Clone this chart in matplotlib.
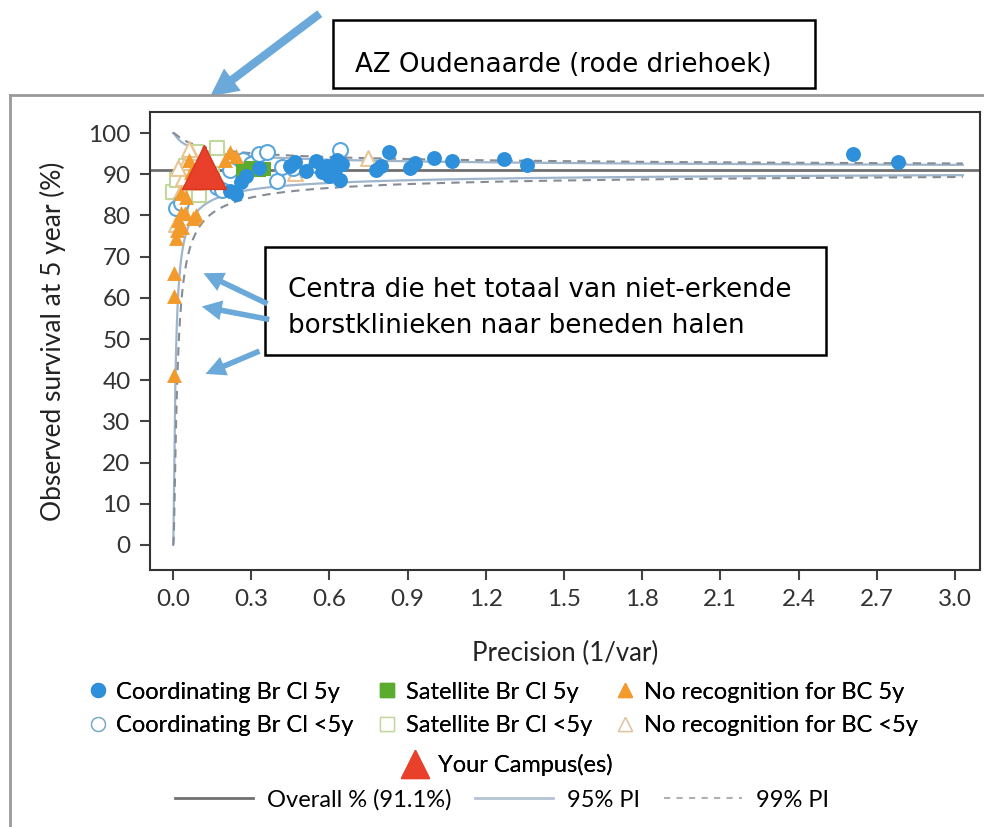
import matplotlib
matplotlib.use("Agg")
import matplotlib.pyplot as plt
import numpy as np
from matplotlib.lines import Line2D
from matplotlib.patches import Rectangle, FancyArrowPatch

plt.rcParams['font.family'] = ['Lato', 'DejaVu Sans']

# ---- data ----
coord5_x = [0.22, 0.24, 0.26, 0.28, 0.33, 0.45, 0.47, 0.51, 0.55, 0.57, 0.59, 0.60, 0.62, 0.63,
            0.64, 0.65, 0.78, 0.80, 0.83, 0.91, 0.93, 1.00, 1.07, 1.27, 1.36, 2.61, 2.78]
coord5_y = [86.0, 85.2, 88.0, 89.5, 91.5, 92.0, 93.0, 90.8, 93.3, 90.5, 92.0, 89.5, 91.0, 93.5,
            88.5, 92.5, 91.0, 92.0, 95.4, 91.5, 92.8, 94.0, 93.2, 93.7, 92.3, 94.8, 92.9]

coord_lt5_x = [0.01, 0.03, 0.17, 0.19, 0.22, 0.27, 0.30, 0.33, 0.36, 0.40, 0.42, 0.46, 0.55, 0.64]
coord_lt5_y = [81.8, 83.0, 87.0, 86.2, 91.0, 93.4, 92.5, 95.0, 95.3, 88.3, 91.7, 91.5, 92.2, 95.9]

sat5_x = [0.27, 0.30, 0.33, 0.35]
sat5_y = [90.8, 91.5, 91.0, 91.3]

sat_lt5_x = [0.00, 0.015, 0.03, 0.05, 0.06, 0.08, 0.09, 0.10, 0.13, 0.15, 0.17]
sat_lt5_y = [85.7, 88.6, 82.5, 92.0, 90.0, 85.0, 95.4, 85.0, 88.0, 90.0, 96.4]

norec5_x = [0.005, 0.005, 0.005, 0.01, 0.015, 0.02, 0.03, 0.035, 0.045, 0.05, 0.06, 0.07, 0.077,
            0.09, 0.10, 0.12, 0.14, 0.16, 0.20, 0.22, 0.24, 0.03, 0.06]
norec5_y = [41.3, 60.5, 66.0, 74.5, 76.5, 79.0, 80.5, 77.2, 80.6, 84.5, 88.0, 90.5, 79.4,
            80.1, 91.0, 94.5, 93.0, 90.0, 93.5, 95.5, 94.5, 85.5, 93.5]

norec_lt5_x = [0.01, 0.02, 0.03, 0.04, 0.05, 0.07, 0.09, 0.11, 0.47, 0.75, 0.02, 0.06]
norec_lt5_y = [78.0, 83.0, 86.0, 89.0, 93.0, 95.5, 88.0, 90.0, 90.3, 93.9, 91.5, 96.0]

campus_x = [0.12]
campus_y = [91.7]

overall = 91.1
logit_scale = 0.1365   # spread of the prediction limits (logit scale, per 1/sqrt(precision))
x_ticks = [0.0, 0.3, 0.6, 0.9, 1.2, 1.5, 1.8, 2.1, 2.4, 2.7, 3.0]
y_ticks = list(range(0, 101, 10))

BLUE = '#2e8fda'
GREEN = '#5aab2e'
ORANGE = '#f39a2c'
RED = '#e8402a'
ARROW = '#6aa9d9'

W, H = 984, 827
fig = plt.figure(figsize=(W / 100, H / 100), dpi=100)
ax = fig.add_axes([150 / W, 1 - 570 / H, 830 / W, 458 / H])

# prediction limits
L = np.log(overall / (100 - overall))
xs = np.geomspace(5e-4, 3.03, 500)
def lim(z, sign):
    return 100 / (1 + np.exp(-(L + sign * z * logit_scale / np.sqrt(xs))))

ax.axhline(overall, color='#707070', lw=2, zorder=2)
for sign in (1, -1):
    ax.plot(xs, lim(1.96, sign), color='#9fb5cc', lw=1.6, zorder=2)
    ax.plot(xs, lim(2.576, sign), color='#868c96', lw=1.5, ls=(0, (4, 3)), zorder=2)

ms = 115
ax.scatter(sat_lt5_x, sat_lt5_y, marker='s', s=ms, facecolor='white', edgecolor='#c2d79a', lw=1.5, zorder=3)
ax.scatter(norec_lt5_x, norec_lt5_y, marker='^', s=ms, facecolor='white', edgecolor='#e9c595', lw=1.5, zorder=3)
ax.scatter(coord_lt5_x, coord_lt5_y, marker='o', s=ms, facecolor='white', edgecolor='#5aa6dc', lw=1.5, zorder=3)
ax.scatter(norec5_x, norec5_y, marker='^', s=ms, color=ORANGE, lw=0, zorder=4)
ax.scatter(sat5_x, sat5_y, marker='s', s=ms, color=GREEN, lw=0, zorder=4)
ax.scatter(coord5_x, coord5_y, marker='o', s=ms, color=BLUE, lw=0, zorder=4)
ax.scatter(campus_x, campus_y, marker='^', s=1000, color=RED, edgecolor='#d8361f', lw=1, zorder=5)

ax.set_xlim(-0.088, 3.096)
ax.set_ylim(-6.07, 105.1)
ax.set_xticks(x_ticks)
ax.set_xticklabels([f'{v:.1f}' for v in x_ticks])
ax.set_yticks(y_ticks)
ax.tick_params(direction='out', length=7, width=1.5, color='#444', labelsize=17.5,
               labelcolor='#333', pad=7)
for sp in ax.spines.values():
    sp.set_color('#333')
    sp.set_linewidth(1.5)
ax.set_xlabel('Precision (1/var)', fontsize=18.5, color='#222', labelpad=22)
ax.set_ylabel('Observed survival at 5 year (%)', fontsize=19, color='#222', labelpad=16)

# legends
h6 = [
    Line2D([], [], ls='', marker='o', ms=10, color=BLUE, label='Coordinating Br Cl 5y'),
    Line2D([], [], ls='', marker='o', ms=10, mfc='white', mec='#7aa9c6', label='Coordinating Br Cl <5y'),
    Line2D([], [], ls='', marker='s', ms=10, color=GREEN, label='Satellite Br Cl 5y'),
    Line2D([], [], ls='', marker='s', ms=10, mfc='white', mec='#c2d79a', label='Satellite Br Cl <5y'),
    Line2D([], [], ls='', marker='^', ms=10, color=ORANGE, label='No recognition for BC 5y'),
    Line2D([], [], ls='', marker='^', ms=10, mfc='white', mec='#e0c3a0', label='No recognition for BC <5y'),
]
leg1 = fig.legend(handles=h6, ncol=3, loc='center', bbox_to_anchor=(0.51, 1 - 709 / H),
                  frameon=False, fontsize=17, handletextpad=0.3, columnspacing=0.9,
                  labelspacing=0.55, handlelength=1.0)
leg2 = fig.legend(handles=[Line2D([], [], ls='', marker='^', ms=20, color=RED, label='Your Campus(es)')],
                  loc='center', bbox_to_anchor=(0.515, 1 - 765 / H), frameon=False, fontsize=17,
                  handletextpad=0.4, handlelength=1.2)
h3 = [
    Line2D([], [], color='#707070', lw=2, label='Overall % (91.1%)'),
    Line2D([], [], color='#b4c4d4', lw=2, label='95% PI'),
    Line2D([], [], color='#b0b0b0', lw=1.5, ls=(0, (3, 3)), label='99% PI'),
]
fig.legend(handles=h3, ncol=3, loc='center', bbox_to_anchor=(0.51, 1 - 800 / H), frameon=False,
           fontsize=17, handlelength=3.3, handletextpad=0.6, columnspacing=1.0)
fig.add_artist(leg1)
fig.add_artist(leg2)

# screenshot border
fig.add_artist(Line2D([10 / W, 1], [1 - 95 / H, 1 - 95 / H], transform=fig.transFigure, color='#999', lw=2))
fig.add_artist(Line2D([10 / W, 10 / W], [1 - 95 / H, 0], transform=fig.transFigure, color='#999', lw=2))

# annotation boxes
def box(x0, y0, x1, y1):
    fig.add_artist(Rectangle((x0 / W, 1 - y1 / H), (x1 - x0) / W, (y1 - y0) / H,
                             transform=fig.transFigure, fill=False, ec='black', lw=1.8))

box(333, 20, 815, 88)
fig.text(355 / W, 1 - 65 / H, 'AZ Oudenaarde (rode driehoek)', fontsize=18.8,
         family='DejaVu Sans', va='center', ha='left', color='black')
box(265, 247, 826, 355)
fig.text(288 / W, 1 - 290 / H, 'Centra die het totaal van niet-erkende', fontsize=18.8,
         family='DejaVu Sans', va='center', ha='left', color='black')
fig.text(288 / W, 1 - 326 / H, 'borstklinieken naar beneden halen', fontsize=18.8,
         family='DejaVu Sans', va='center', ha='left', color='black')

# arrows
def arrow(x0, y0, x1, y1, tail, head, scale):
    style = f'simple,tail_width={tail},head_width={head},head_length={head}'
    fig.add_artist(FancyArrowPatch((x0 / W, 1 - y0 / H), (x1 / W, 1 - y1 / H),
                                   transform=fig.transFigure, arrowstyle=style,
                                   mutation_scale=scale, color=ARROW, lw=0))

arrow(322, 12, 208, 98, 0.3, 1.0, 20)
arrow(270, 305, 201, 272, 0.25, 0.9, 16)
arrow(272, 320, 199, 306, 0.25, 0.9, 16)
arrow(262, 350, 203, 375, 0.25, 0.9, 16)

fig.savefig('out.png', dpi=100)
